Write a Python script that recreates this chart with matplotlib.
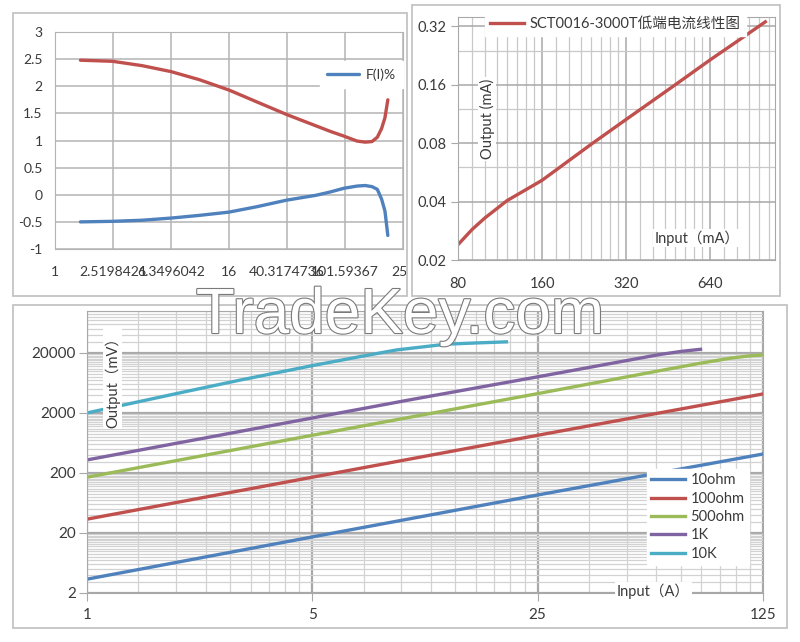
import numpy as np
import matplotlib
matplotlib.use('Agg')
import matplotlib.pyplot as plt
from matplotlib.patches import Rectangle
from matplotlib.ticker import FixedLocator, NullFormatter
from matplotlib.transforms import Bbox, TransformedBbox
import matplotlib.patheffects as pe

# ---- data: top-left (F(I)% curves) ----
tl_x = [1.5, 2.5, 4, 6.35, 10, 16, 25, 40, 64, 80, 100, 123, 140, 156, 170, 182, 192, 201]
tl_red = [2.48, 2.46, 2.38, 2.27, 2.12, 1.93, 1.71, 1.48, 1.27, 1.17, 1.08, 0.99, 0.97, 0.98, 1.06, 1.22, 1.42, 1.75]
tl_blue = [-0.50, -0.49, -0.47, -0.43, -0.38, -0.32, -0.22, -0.10, -0.01, 0.05, 0.12, 0.16, 0.17, 0.15, 0.10, -0.08, -0.30, -0.75]
tl_xticks = [1, 2.5198421, 6.3496042, 16, 40.3174736, 101.59367, 256]
tl_xlabels = ['1', '2.5198421', '6.3496042', '16', '40.3174736', '101.59367', '256']
tl_yticks = [-1, -0.5, 0, 0.5, 1, 1.5, 2, 2.5, 3]
tl_ylabels = ['-1', '-0.5', '0', '0.5', '1', '1.5', '2', '2.5', '3']

# ---- data: top-right (SCT0016-3000T) ----
tr_input = [80, 90, 100, 120, 160, 240, 320, 480, 640, 800, 1010]
tr_output = [0.024, 0.0288, 0.033, 0.0405, 0.0515, 0.079, 0.106, 0.16, 0.215, 0.268, 0.338]
tr_xticks = [80, 160, 320, 640]
tr_yticks = [0.02, 0.04, 0.08, 0.16, 0.32]

# ---- data: bottom (output vs burden) ----
names = ['10ohm', '100ohm', '500ohm', '1K', '10K']
x_10ohm = [1, 5, 25, 125]
y_10ohm = [3.4, 17.2, 86, 414]
x_100ohm = [1, 5, 25, 125]
y_100ohm = [34, 170, 850, 4150]
x_500ohm = [1, 5, 25, 59, 80, 100, 115, 125]
y_500ohm = [170, 850, 4200, 10000, 13500, 16500, 18000, 18500]
x_1k = [1, 2, 5, 10, 25, 50, 60, 70, 80]
y_1k = [330, 660, 1650, 3300, 8000, 15800, 18900, 21300, 23000]
x_10k = [1, 1.3, 2, 3, 5, 7, 9.1, 13, 16, 20]
y_10k = [2000, 2720, 4480, 7100, 12300, 17300, 22400, 28000, 29300, 30600]
b_xticks = [1, 5, 25, 125]
b_yticks = [2, 20, 200, 2000, 20000]

RED = '#c0504d'
BLUE = '#4f81bd'
GREEN = '#9bbb59'
PURPLE = '#8064a2'
CYAN = '#4bacc6'
TXT = '#3a3a3a'
FONT = ['Lato', 'Noto Sans CJK SC']

plt.rcParams['font.family'] = FONT

W, H = 800, 642
fig = plt.figure(figsize=(8, 6.42), dpi=100)


def box(x0, y0, x1, y1):
    return [x0 / W, 1 - y1 / H, (x1 - x0) / W, (y1 - y0) / H]


def frame(x0, y0, x1, y1):
    fig.add_artist(Rectangle((x0 / W, 1 - y1 / H), (x1 - x0) / W, (y1 - y0) / H,
                             transform=fig.transFigure, fill=False, ec='#c4c4c4', lw=1.3))


frame(13, 13, 407, 296)
frame(412, 5, 780, 296)
frame(13, 305, 787, 628)

# ---------------- top-left ----------------
ax1 = fig.add_axes(box(55, 32, 403, 249))
ax1.set_xscale('log')
ax1.set_xlim(1, 256)
ax1.set_ylim(-1, 3)
ax1.xaxis.set_major_locator(FixedLocator(tl_xticks))
ax1.xaxis.set_minor_locator(FixedLocator([]))
ax1.set_xticklabels(tl_xlabels)
ax1.set_yticks(tl_yticks)
ax1.set_yticklabels(tl_ylabels)
ax1.grid(color='#b4b4b4', lw=1.1)
for s in ax1.spines.values():
    s.set_color('#b4b4b4')
ax1.tick_params(length=0, labelsize=10, colors=TXT)
ax1.tick_params(axis='x', pad=12)
ax1.tick_params(axis='y', pad=9)
ax1.plot(tl_x, tl_red, color=RED, lw=2.4, solid_capstyle='round')
l_blue, = ax1.plot(tl_x, tl_blue, color=BLUE, lw=2.4, solid_capstyle='round')
leg1 = ax1.legend([l_blue], ['F(I)%'], loc='upper right', bbox_to_anchor=(1.0, 0.865),
                  borderaxespad=0, fancybox=False, edgecolor='white', framealpha=1,
                  handlelength=2.3, handletextpad=0.5, fontsize=10, borderpad=0.5)
for t in leg1.get_texts():
    t.set_color(TXT)
clipbb = TransformedBbox(Bbox.from_extents(0, 0, 407 / W, 1), fig.transFigure)
for lbl in ax1.get_xticklabels():
    lbl.set_clip_on(True)
    lbl.set_clip_box(clipbb)

# ---------------- top-right ----------------
ax2 = fig.add_axes(box(458, 17, 775, 260))
ax2.set_xscale('log', base=2)
ax2.set_yscale('log', base=2)
ax2.set_xlim(80, 1094)
ax2.set_ylim(0.02, 0.358)
ax2.xaxis.set_major_locator(FixedLocator(tr_xticks))
ax2.set_xticklabels([str(v) for v in tr_xticks])
ax2.yaxis.set_major_locator(FixedLocator(tr_yticks))
ax2.set_yticklabels(['%.2f' % v for v in tr_yticks])
tr_xminor = [m * (1 + k / 8) for m in tr_xticks for k in range(1, 8)]
ax2.xaxis.set_minor_locator(FixedLocator(tr_xminor))
ax2.yaxis.set_minor_locator(FixedLocator([0.06, 0.12, 0.24]))
ax2.xaxis.set_minor_formatter(NullFormatter())
ax2.yaxis.set_minor_formatter(NullFormatter())
ax2.grid(which='major', color='#a8a8a8', lw=1.1)
ax2.grid(which='minor', color='#c8c8c8', lw=0.9)
for s in ax2.spines.values():
    s.set_color('#a8a8a8')
ax2.tick_params(which='minor', length=0)
ax2.tick_params(axis='y', which='major', length=5, color='#a8a8a8', labelsize=10.5, colors=TXT, pad=3)
ax2.tick_params(axis='x', which='major', length=0, labelsize=10.5, colors=TXT, pad=12)
l_tr, = ax2.plot(tr_input, tr_output, color=RED, lw=2.4)
leg2 = ax2.legend([l_tr], ['SCT0016-3000T低端电流线性图'], loc='upper left',
                  bbox_to_anchor=(0.085, 1.02), borderaxespad=0, fancybox=False,
                  edgecolor='white', framealpha=1, handlelength=2.3, handletextpad=0.4,
                  fontsize=10.5, borderpad=0.35)
for t in leg2.get_texts():
    t.set_color(TXT)
ax2.text(0.093, 0.58, 'Output (mA)', transform=ax2.transAxes, rotation=90, ha='center',
         va='center', fontsize=10.5, color=TXT,
         bbox=dict(facecolor='white', edgecolor='none', pad=1))
ax2.text(0.755, 0.09, 'Input（mA）', transform=ax2.transAxes, ha='center', va='center',
         fontsize=10.5, color=TXT, bbox=dict(facecolor='white', edgecolor='none', pad=1))

# ---------------- bottom ----------------
ax3 = fig.add_axes(box(87, 311, 763, 593))
ax3.set_xscale('log', base=5)
ax3.set_yscale('log')
ax3.set_xlim(1, 125)
ax3.set_ylim(2, 100000)
ax3.xaxis.set_major_locator(FixedLocator(b_xticks))
ax3.set_xticklabels([str(v) for v in b_xticks])
ax3.yaxis.set_major_locator(FixedLocator(b_yticks))
ax3.set_yticklabels([str(v) for v in b_yticks])
b_xminor = [m * (1 + 4 * k / 9) for m in [1, 5, 25] for k in range(1, 9)]
b_yminor = [k * 10 ** n for n in range(4) for k in range(3, 20)] + [k * 10000 for k in range(3, 11)]
ax3.xaxis.set_minor_locator(FixedLocator(b_xminor))
ax3.yaxis.set_minor_locator(FixedLocator(b_yminor))
ax3.xaxis.set_minor_formatter(NullFormatter())
ax3.yaxis.set_minor_formatter(NullFormatter())
ax3.grid(which='major', color='#a8a8a8', lw=1.6)
ax3.grid(which='minor', color='#d2d2d2', lw=0.9)
for s in ax3.spines.values():
    s.set_color('#a8a8a8')
ax3.tick_params(which='minor', length=0)
ax3.tick_params(which='major', length=6, color='#a8a8a8', labelsize=11, colors=TXT)
ax3.tick_params(axis='y', pad=2)
ax3.tick_params(axis='x', pad=5)

series = [(x_10ohm, y_10ohm, BLUE), (x_100ohm, y_100ohm, RED), (x_500ohm, y_500ohm, GREEN),
          (x_1k, y_1k, PURPLE), (x_10k, y_10k, CYAN)]
handles = []
for xs, ys, c in series:
    ln, = ax3.plot(xs, ys, color=c, lw=2.4)
    handles.append(ln)
leg3 = ax3.legend(handles, names, loc='upper left', bbox_to_anchor=(0.828, 0.44),
                  borderaxespad=0, fancybox=False, edgecolor='white', framealpha=1,
                  handlelength=2.3, handletextpad=0.4, fontsize=10.5, labelspacing=0.3,
                  borderpad=0.3)
for t in leg3.get_texts():
    t.set_color(TXT)
ax3.text(0.038, 0.76, 'Output（mV）', transform=ax3.transAxes, rotation=90, ha='center',
         va='center', fontsize=10.5, color=TXT,
         bbox=dict(facecolor='white', edgecolor='none', pad=1))
ax3.text(0.838, 0.005, 'Input（A）', transform=ax3.transAxes, ha='center', va='center',
         fontsize=10.5, color=TXT, bbox=dict(facecolor='white', edgecolor='none', pad=1.5))

# watermark
fig.text(400 / W, 1 - 316 / H, 'TradeKey.com', ha='center', va='center', fontsize=46,
         family='Liberation Sans', color='white',
         path_effects=[pe.withStroke(linewidth=1.6, foreground='#7a7a7a')])

fig.savefig('out.png', dpi=100, facecolor='white')
